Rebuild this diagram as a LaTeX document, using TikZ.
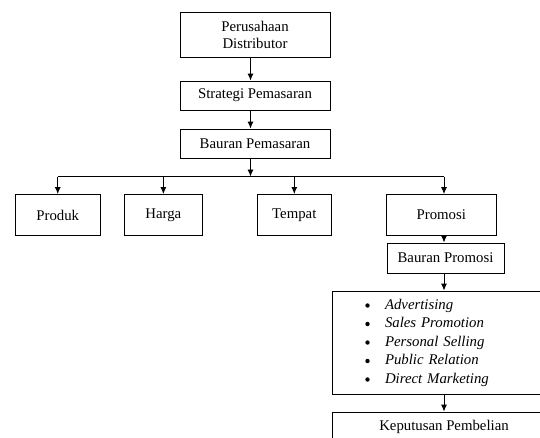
\documentclass[tikz,border=0pt]{standalone}
\usepackage{fontspec}
\setmainfont{Liberation Serif}
\usetikzlibrary{arrows.meta}
\tikzset{
  box/.style={draw, line width=0.9pt, inner sep=0pt, align=center,
    font=\fontsize{14.8}{17}\selectfont},
  link/.style={line width=0.9pt, -{Latex[length=7pt,width=6pt]}},
}
\newcommand{\tool}[1]{\hspace*{53pt}\textit{#1}}
\begin{document}
\begin{tikzpicture}[x=1pt,y=-1pt]
        \useasboundingbox (0,0) rectangle (540,437);
        \clip (0,0) rectangle (540,437);

        % the boxes of the main column
        \node[box, minimum width=150pt, minimum height=45pt] (dist) at (255,34.5) {Perusahaan\\Distributor};
        \node[box, minimum width=150pt, minimum height=29pt] (strat) at (255,95.5) {Strategi Pemasaran};
        \node[box, minimum width=150pt, minimum height=29pt] (baur) at (255,143.5) {Bauran Pemasaran};

        % the four elements of the marketing mix
        \node[box, minimum width=84.5pt, minimum height=41pt] (prod) at (57.75,215) {Produk};
        \node[box, minimum width=77.3pt, minimum height=41pt] (harga) at (163.35,215) {Harga};
        \node[box, minimum width=73.4pt, minimum height=41pt] (tempat) at (294.3,215) {Tempat};
        \node[box, minimum width=110.6pt, minimum height=41pt] (promosi) at (441.3,215) {Promosi};

        % the promotion column (cut off at the right and the bottom)
        \node[box, minimum width=117pt, minimum height=30pt] (bpromo) at (445.5,258) {Bauran Promosi};
        \node[box, minimum width=224pt, minimum height=103pt, text width=224pt, align=left,
              font=\fontsize{14.8}{18.5}\selectfont] (tools) at (444,342.5)
              {\tool{Advertising}\\\tool{Sales Promotion}\\\tool{Personal Selling}\\\tool{Public Relation}\\\tool{Direct Marketing}};
        \node[box, minimum width=224pt, minimum height=30pt] (kep) at (444,427) {Keputusan Pembelian};

        % the bullets in front of the list
        \foreach \y in {305.5,324,342.5,361,379.5}
            \fill (367.5,\y) circle (2.2pt);

        % points used to place the arrows
        \coordinate (trunk) at (250.5,0);
        \coordinate (bar) at (250.5,176.5);
        \coordinate (col) at (444,0);

        % draw the arrows
        \draw[link] (dist.south -| trunk) -- (strat.north -| trunk);
        \draw[link] (strat.south -| trunk) -- (baur.north -| trunk);
        \draw[link] (baur.south -| trunk) -- (bar);
        \draw[line width=0.9pt] (prod.north |- bar) -- (col |- bar);
        \draw[link] (prod.north |- bar) -- (prod.north);
        \draw[link] (harga.north |- bar) -- (harga.north);
        \draw[link] (tempat.north |- bar) -- (tempat.north);
        \draw[link] (col |- bar) -- (promosi.north -| col);
        \draw[link] (promosi.south -| col) -- (bpromo.north -| col);
        \draw[link] (bpromo.south -| col) -- (tools.north -| col);
        \draw[link] (tools.south -| col) -- (kep.north -| col);

    \end{tikzpicture}
\end{document}
